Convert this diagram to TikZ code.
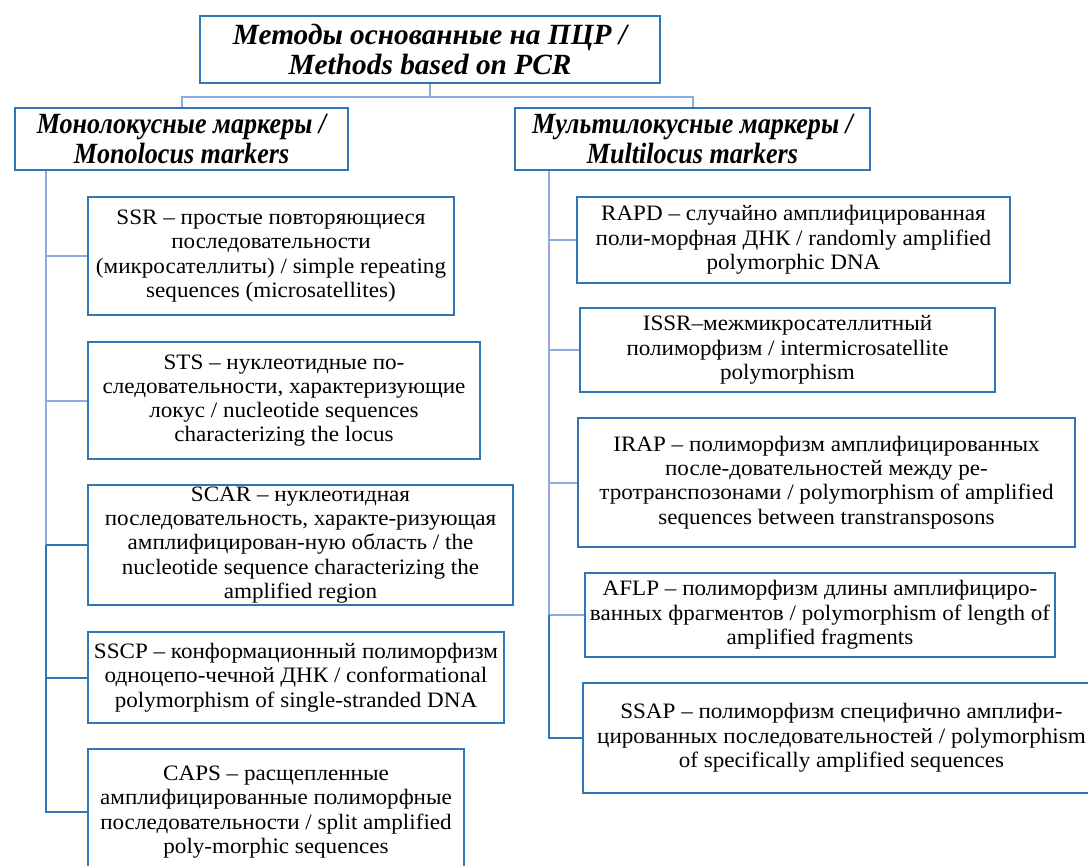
\documentclass[tikz,border=0pt]{standalone}
\usepackage{fontspec}
\setmainfont{Liberation Serif}
\newfontfamily\bodyfont[FakeStretch=1.05]{Liberation Serif}
\newfontfamily\headfont{Liberation Serif}
\newfontfamily\subheadfont[FakeStretch=0.89]{Liberation Serif}
\usetikzlibrary{positioning}
\definecolor{boxblue}{RGB}{46,117,182}
\definecolor{linklav}{RGB}{143,170,220}

\begin{document}
\begin{tikzpicture}[x=0.75pt, y=-0.75pt,
        head/.style={rectangle, draw=boxblue, line width=2pt, fill=white,
          align=center, inner sep=0pt,
        font=\headfont\bfseries\itshape\fontsize{22}{22.5}\selectfont},
        subhead/.style={head,
        font=\subheadfont\bfseries\itshape\fontsize{22}{22.5}\selectfont},
        item/.style={rectangle, draw=boxblue, line width=2pt, fill=white,
          align=center, inner sep=0pt,
        font=\bodyfont\fontsize{16.5}{18.2}\selectfont},
        link/.style={draw=linklav, line width=1.5pt},
        linkdark/.style={draw=boxblue, line width=1.5pt},
      ]
      \useasboundingbox (0,0) rectangle (1088,866);

      % upper levels
      \node[head, minimum width=345pt, minimum height=50.25pt] (pcr) at (430, 49.5)
      {Методы основанные на ПЦР /\\ Methods based on PCR};

      \node[subhead, minimum width=249.75pt, minimum height=46.5pt] (mono) at (181.5, 139)
      {Монолокусные маркеры /\\ Monolocus markers};

      \node[subhead, minimum width=266.25pt, minimum height=46.5pt] (multi) at (692.5, 139)
      {Мультилокусные маркеры /\\ Multilocus markers};

      % monolocus markers
      \node[item, minimum width=274.5pt, minimum height=88.5pt] (ssr) at (271, 256)
      {SSR – простые повторяющиеся\\ последовательности\\
      (микросателлиты) / simple repeating\\ sequences (microsatellites)};

      \node[item, minimum width=294pt, minimum height=87.75pt] (sts) at (284, 400.5)
      {STS – нуклеотидные по-\\ следовательности, характеризующие\\
      локус / nucleotide sequences\\ characterizing the locus};

      \node[item, minimum width=318.75pt, minimum height=90pt] (scar) at (300.5, 545)
      {SCAR – нуклеотидная\\ последовательность, характе-ризующая\\
      амплифицирован-ную область / the\\ nucleotide sequence characterizing the\\
      amplified region};

      \node[item, minimum width=312pt, minimum height=68.25pt] (sscp) at (296, 677.5)
      {SSCP – конформационный полиморфизм\\ одноцепо-чечной ДНК / conformational\\
      polymorphism of single-stranded DNA};

      \node[item, minimum width=282pt, minimum height=94.5pt] (caps) at (276, 812)
      {CAPS – расщепленные\\ амплифицированные полиморфные\\
      последовательности / split amplified\\ poly-morphic sequences};

      % multilocus markers
      \node[item, minimum width=324.75pt, minimum height=64.5pt] (rapd) at (793.5, 240)
      {RAPD – случайно амплифицированная\\ поли-морфная ДНК / randomly amplified\\
      polymorphic DNA};

      \node[item, minimum width=311.25pt, minimum height=63pt] (issr) at (787.5, 350)
      {ISSR–межмикросателлитный\\ полиморфизм / intermicrosatellite\\ polymorphism};

      \node[item, minimum width=372.75pt, minimum height=96.75pt] (irap) at (826.5, 482.5)
      {IRAP – полиморфизм амплифицированных\\ после-довательностей между ре-\\
      тротранспозонами / polymorphism of amplified\\ sequences between transtransposons};

      \node[item, minimum width=352.5pt, minimum height=63pt] (aflp) at (820, 615)
      {AFLP – полиморфизм длины амплифициро-\\ ванных фрагментов / polymorphism of length of\\
      amplified fragments};

      \node[item, minimum width=387.75pt, minimum height=82.5pt] (ssap) at (841.5, 738)
      {SSAP – полиморфизм специфично амплифи-\\ цированных последовательностей / polymorphism\\
      of specifically amplified sequences};

      % connectors
      \draw[link] (pcr.south) -- ++(0,13) -| (mono.north);
      \draw[link] (pcr.south) -- ++(0,13) -| (multi.north);

      \coordinate (lspine) at ([xshift=24pt]mono.south west);
      \coordinate (rspine) at ([xshift=26.25pt]multi.south west);

      \draw[link] (lspine) |- (ssr.west);
      \draw[link] (lspine) |- (sts.west);
      \draw[link] (lspine) -- (lspine |- scar.west);
      \draw[linkdark] (lspine |- scar.west) -- (scar.west);
      \draw[linkdark] (lspine |- scar.west) |- (sscp.west);
      \draw[linkdark] (lspine |- scar.west) |- (caps.west);

      \draw[link] (rspine) |- (rapd.west);
      \draw[link] (rspine) |- (issr.west);
      \draw[link] (rspine) |- (irap.west);
      \draw[link] (rspine) |- (aflp.west);
      \draw[linkdark] (rspine |- aflp.west) |- (ssap.west);

    \end{tikzpicture}
\end{document}
